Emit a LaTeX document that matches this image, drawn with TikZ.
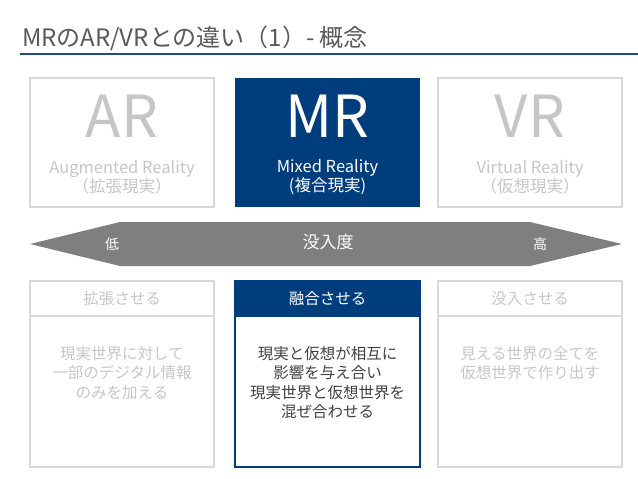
\documentclass[tikz,border=0pt]{standalone}
\usepackage{fontspec}
\setmainfont{Noto Sans CJK JP}
\usetikzlibrary{positioning}
\definecolor{mrnavy}{RGB}{0,61,125}
\definecolor{titlegray}{RGB}{89,89,89}
\definecolor{titleblue}{RGB}{31,78,121}
\definecolor{boxgray}{RGB}{217,217,217}
\definecolor{palegray}{RGB}{198,198,198}
\definecolor{arrowgray}{RGB}{127,127,127}
\definecolor{bodygray}{RGB}{64,64,64}
\newcommand{\pxfont}[2]{\fontsize{#1}{#2}\selectfont}

\begin{document}
\begin{tikzpicture}[x=1pt,y=-1pt,
every node/.style={inner sep=0pt,outer sep=0pt},
grybox/.style={draw=boxgray,line width=1.5pt},
navybox/.style={draw=mrnavy,line width=1.5pt},
bigtext/.style={font=\pxfont{58}{64}},
subtext/.style={align=center,font=\pxfont{16.5}{19}},
headtext/.style={font=\pxfont{15.5}{19}},
bodytext/.style={align=center,anchor=north,font=\pxfont{15.5}{19.5}}]
\useasboundingbox (0,0) rectangle (638,479);

\node[anchor=base west,text=titlegray,font=\pxfont{24}{28}] (title) at (22,46) {MRのAR/VRとの違い（1）- 概念};
\draw[titleblue,line width=2pt] (20,54) -- (638,54);

\node[grybox,minimum width=184,minimum height=129] (ARbox) at (122,142.5) {};
\node[fill=mrnavy,minimum width=185,minimum height=129] (MRbox) at (327.5,142.5) {};
\node[grybox,minimum width=184,minimum height=129] (VRbox) at (530,142.5) {};

\node[bigtext,text=palegray] (ARbig) at (122,116) {AR};
\node[bigtext,text=white] (MRbig) at (327.5,116) {MR};
\node[bigtext,text=palegray] (VRbig) at (530,116) {VR};
\node[subtext,text=palegray] (ARsub) at (122,177) {Augmented Reality\\（拡張現実）};
\node[subtext,text=white] (MRsub) at (327.5,177) {Mixed Reality\\(複合現実)};
\node[subtext,text=palegray] (VRsub) at (530,177) {Virtual Reality\\（仮想現実）};

\fill[arrowgray] (30,244) -- (120,222) -- (530,222) -- (622,244) -- (530,266) -- (120,266) -- cycle;
\node[text=white,font=\pxfont{14}{16}] (low) at (112,244) {低};
\node[text=white,font=\pxfont{17}{20}] (depth) at (328,242) {没入度};
\node[text=white,font=\pxfont{14}{16}] (high) at (540,244) {高};

\node[grybox,headtext,text=palegray,minimum width=184,minimum height=35] (ARhead) at (122,298.5) {拡張させる};
\node[navybox,fill=mrnavy,headtext,text=white,minimum width=185,minimum height=35] (MRhead) at (327.5,298.5) {融合させる};
\node[grybox,headtext,text=palegray,minimum width=184,minimum height=35] (VRhead) at (530,298.5) {没入させる};

\node[grybox,anchor=north,minimum width=184,minimum height=151] (ARbody) at (ARhead.south) {};
\node[navybox,anchor=north,minimum width=185,minimum height=151] (MRbody) at (MRhead.south) {};
\node[grybox,anchor=north,minimum width=184,minimum height=151] (VRbody) at (VRhead.south) {};

\node[bodytext,text=palegray] (ARtext) at (122,346) {現実世界に対して\\一部のデジタル情報\\のみを加える};
\node[bodytext,text=bodygray] (MRtext) at (327.5,346) {現実と仮想が相互に\\影響を与え合い\\現実世界と仮想世界を\\混ぜ合わせる};
\node[bodytext,text=palegray] (VRtext) at (530,346) {見える世界の全てを\\仮想世界で作り出す};
\end{tikzpicture}
\end{document}
